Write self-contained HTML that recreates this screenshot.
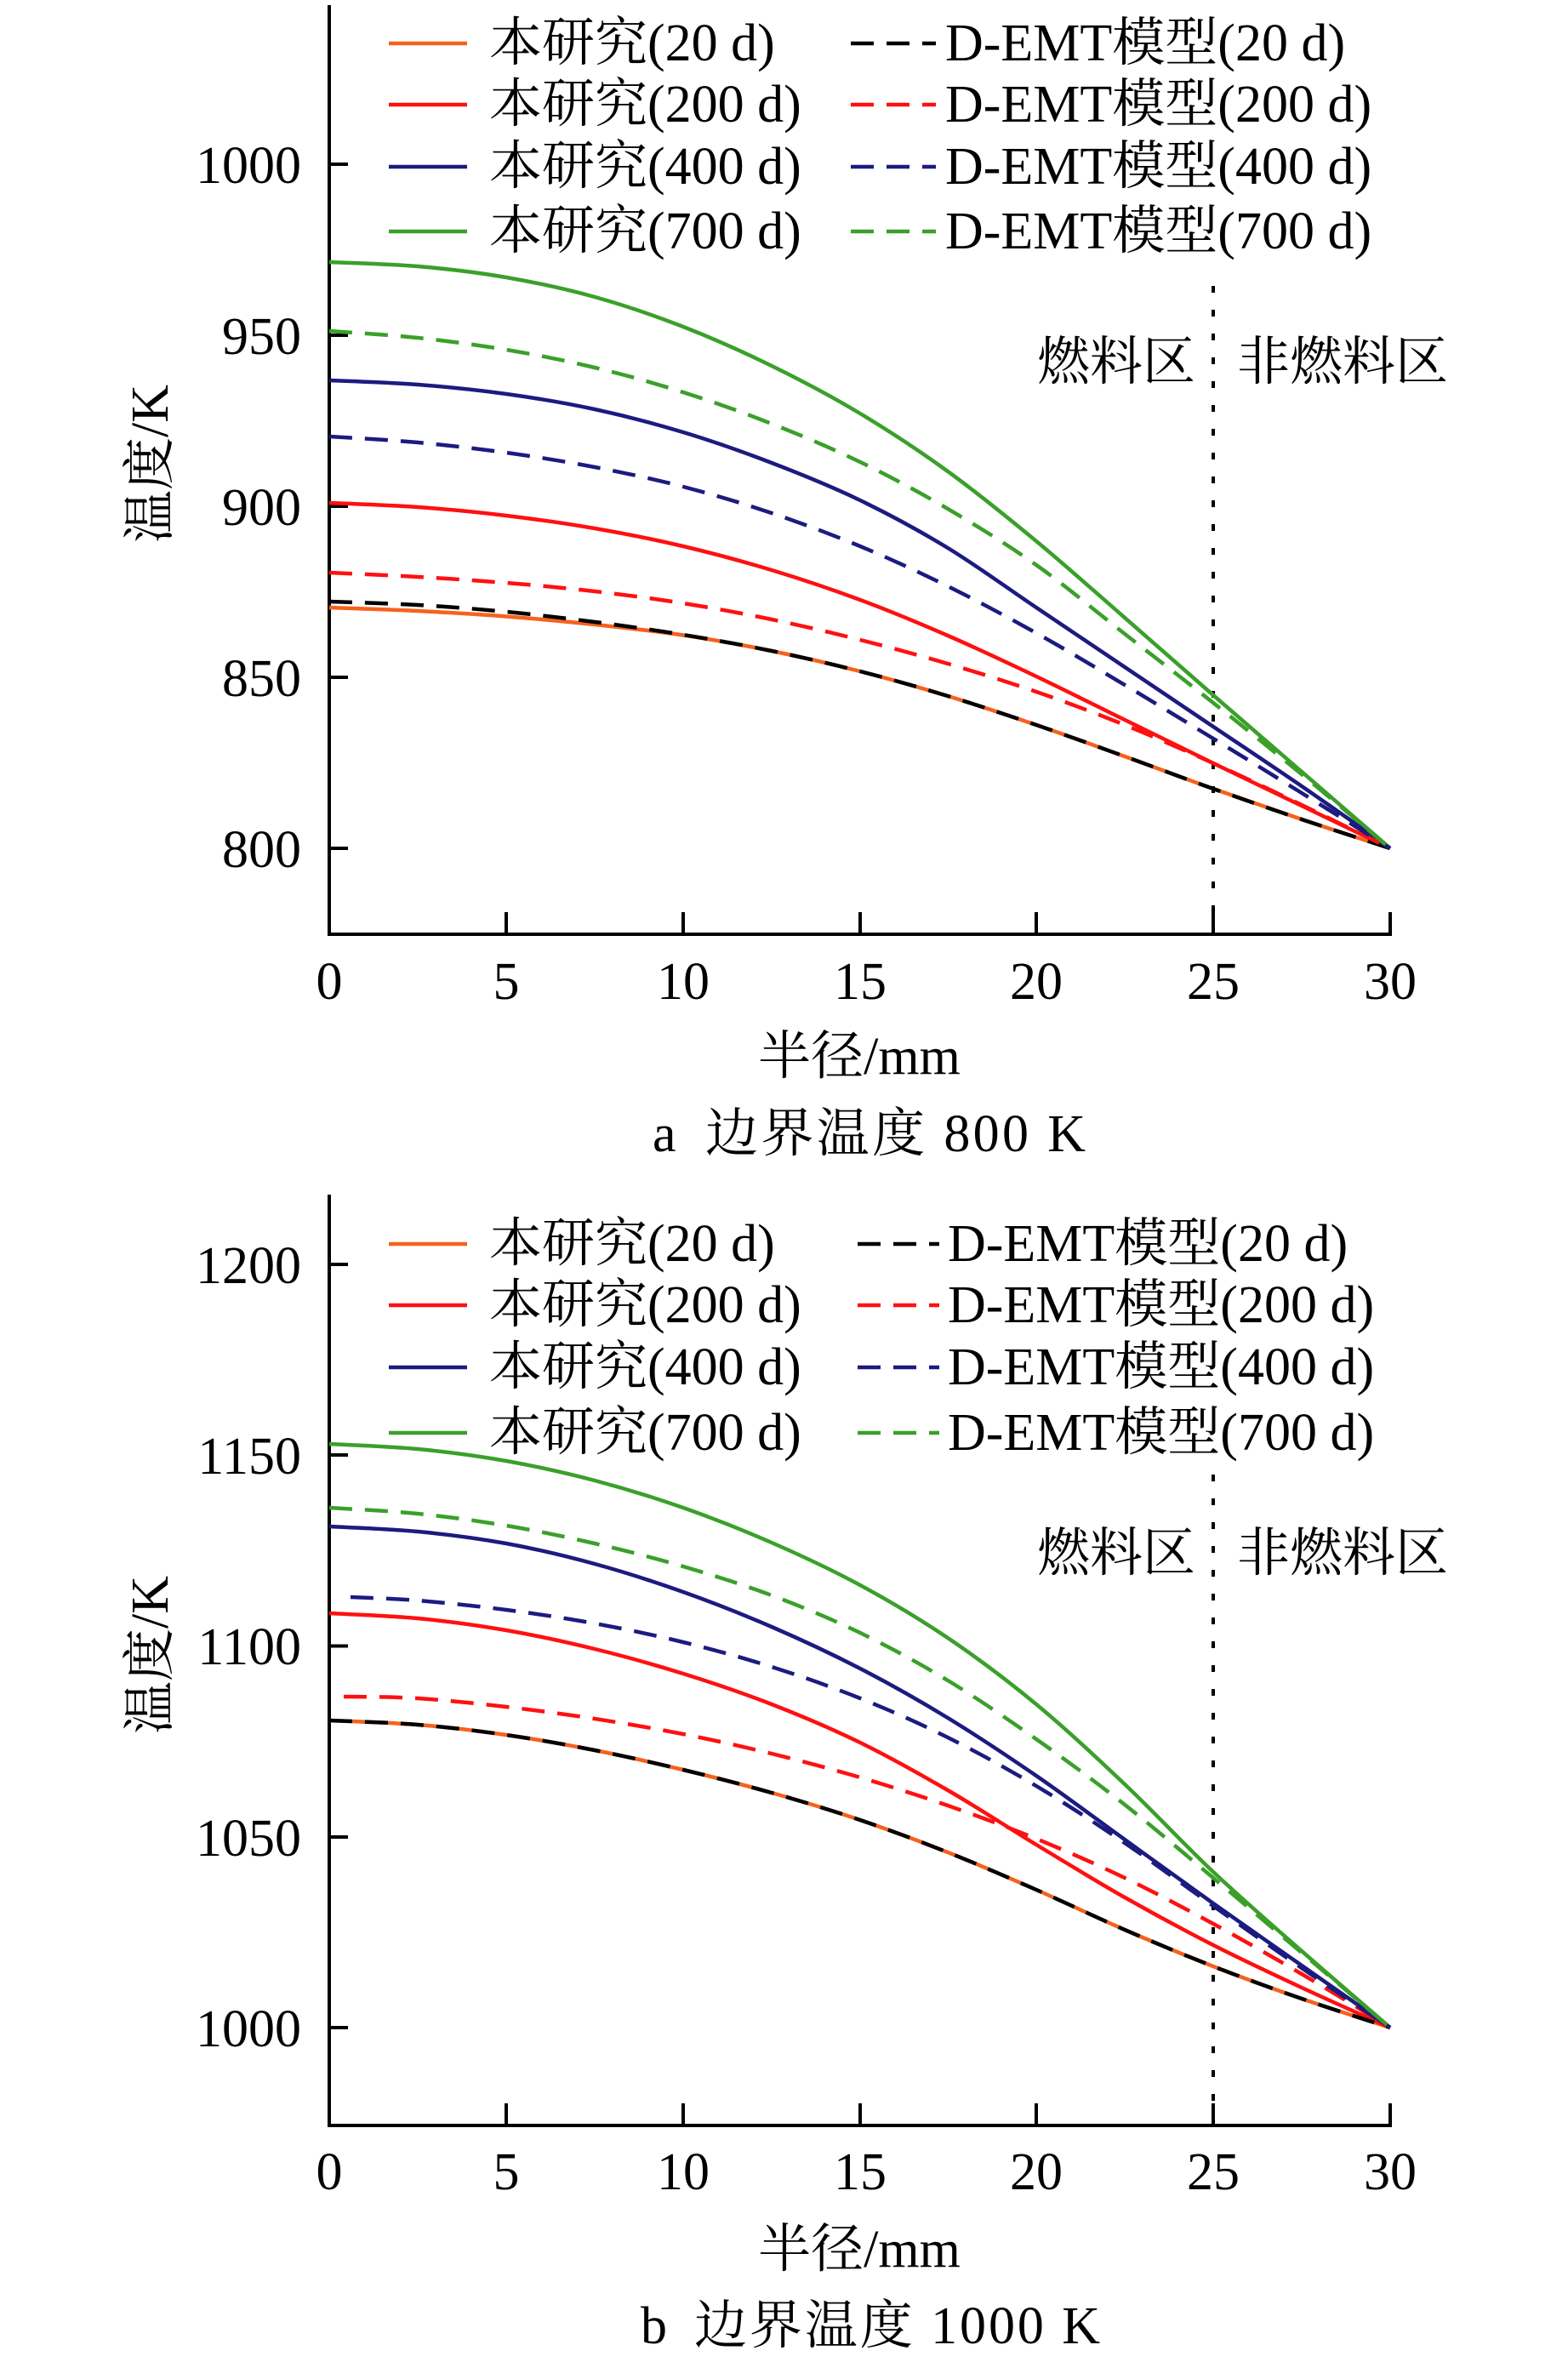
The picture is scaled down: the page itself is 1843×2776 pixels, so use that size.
<!DOCTYPE html>
<html>
<head>
<meta charset="utf-8">
<style>
html,body{margin:0;padding:0;background:#fff;}
svg{display:block;}
text{font-family:"Liberation Serif","Noto Serif CJK SC",serif;font-size:62px;fill:#000;}
.ax{stroke:#000;stroke-width:4;fill:none;stroke-linecap:square;}
.tk{stroke:#000;stroke-width:4;fill:none;}
.c{fill:none;stroke-width:4.5;stroke-linejoin:round;stroke-linecap:butt;}
.d{stroke-dasharray:27 15;}
.dot{stroke:#000;stroke-width:4;stroke-dasharray:8 20;fill:none;}
</style>
</head>
<body>
<svg id="fig" width="1843" height="2776" viewBox="0 0 1843 2776" xmlns="http://www.w3.org/2000/svg">
<rect x="0" y="0" width="1843" height="2776" fill="#fff"/>

<!-- ================= Chart a ================= -->
<line class="ax" x1="387" y1="8" x2="387" y2="1098"/>
<line class="ax" x1="387" y1="1098" x2="1634" y2="1098"/>
<line class="tk" x1="387" y1="193" x2="409" y2="193"/>
<line class="tk" x1="387" y1="394" x2="409" y2="394"/>
<line class="tk" x1="387" y1="595" x2="409" y2="595"/>
<line class="tk" x1="387" y1="796" x2="409" y2="796"/>
<line class="tk" x1="387" y1="997" x2="409" y2="997"/>
<line class="tk" x1="595" y1="1072" x2="595" y2="1098"/>
<line class="tk" x1="803" y1="1072" x2="803" y2="1098"/>
<line class="tk" x1="1011" y1="1072" x2="1011" y2="1098"/>
<line class="tk" x1="1218" y1="1072" x2="1218" y2="1098"/>
<line class="tk" x1="1426" y1="1072" x2="1426" y2="1098"/>
<line class="tk" x1="1634" y1="1072" x2="1634" y2="1098"/>
<text x="354" y="215" text-anchor="end">1000</text>
<text x="354" y="416" text-anchor="end">950</text>
<text x="354" y="617" text-anchor="end">900</text>
<text x="354" y="818" text-anchor="end">850</text>
<text x="354" y="1019" text-anchor="end">800</text>
<text x="387" y="1174" text-anchor="middle">0</text>
<text x="595" y="1174" text-anchor="middle">5</text>
<text x="803" y="1174" text-anchor="middle">10</text>
<text x="1011" y="1174" text-anchor="middle">15</text>
<text x="1218" y="1174" text-anchor="middle">20</text>
<text x="1426" y="1174" text-anchor="middle">25</text>
<text x="1634" y="1174" text-anchor="middle">30</text>
<text transform="translate(197,545) rotate(-90)" text-anchor="middle">温度/K</text>
<text x="1010" y="1262" text-anchor="middle">半径/mm</text>
<text x="767" y="1353">a</text>
<text x="829" y="1353" textLength="447">边界温度 800 K</text>

<line class="dot" x1="1426" y1="336" x2="1426" y2="1098"/>
<text x="1219" y="446">燃料区</text>
<text x="1454" y="446">非燃料区</text>

<polyline class="c" stroke="#F5621E" points="387,714 491,718 595,724.5 699,734 803,746.5 907,765 1011,789 1114,818 1218,852 1322,889 1426,927 1530,963 1634,997"/>
<polyline class="c" stroke="#FF1010" points="387,591 491,596 595,606 699,621 803,642 907,670 1011,705 1114,747 1218,795 1322,846 1426,897 1530,947 1634,997"/>
<polyline class="c" stroke="#1B1B80" points="387,447 491,452 595,463 699,481 803,508 907,544 1011,588 1114,644 1218,714 1322,784 1426,854 1530,924 1634,997"/>
<polyline class="c" stroke="#3AA02A" points="387,308 491,313 595,326 699,349 803,384 907,430 1011,486 1114,554 1218,636 1322,726 1426,817 1530,907 1634,997"/>
<polyline class="c d" stroke="#000" points="387,707 491,711 595,719 699,731 803,746 907,765 1011,789 1114,818 1218,852 1322,889 1426,927 1530,963 1634,997"/>
<polyline class="c d" stroke="#FF1010" points="387,673 491,678 595,685 699,695 803,709 907,728 1011,752 1114,780 1218,813 1322,852 1426,897 1530,946 1634,997"/>
<polyline class="c d" stroke="#1B1B80" points="387,513 491,520 595,532 699,549 803,572 907,603 1011,642 1114,689 1218,744 1322,805 1426,868 1530,932 1634,997"/>
<polyline class="c d" stroke="#3AA02A" points="387,389 491,397 595,411 699,432 803,461 907,498 1011,543 1114,598 1218,664 1322,745 1426,826 1530,910 1634,997"/>

<line class="c" stroke="#F5621E" x1="457" y1="51" x2="549" y2="51"/>
<line class="c" stroke="#FF1010" x1="457" y1="123" x2="549" y2="123"/>
<line class="c" stroke="#1B1B80" x1="457" y1="196" x2="549" y2="196"/>
<line class="c" stroke="#3AA02A" x1="457" y1="272" x2="549" y2="272"/>
<text x="575" y="71">本研究(20 d)</text>
<text x="575" y="143">本研究(200 d)</text>
<text x="575" y="216">本研究(400 d)</text>
<text x="575" y="292">本研究(700 d)</text>
<line class="c d" stroke="#000" x1="1000" y1="51" x2="1100" y2="51"/>
<line class="c d" stroke="#FF1010" x1="1000" y1="123" x2="1100" y2="123"/>
<line class="c d" stroke="#1B1B80" x1="1000" y1="196" x2="1100" y2="196"/>
<line class="c d" stroke="#3AA02A" x1="1000" y1="272" x2="1100" y2="272"/>
<text x="1111" y="71">D-EMT模型(20 d)</text>
<text x="1111" y="143">D-EMT模型(200 d)</text>
<text x="1111" y="216">D-EMT模型(400 d)</text>
<text x="1111" y="292">D-EMT模型(700 d)</text>

<!-- ================= Chart b ================= -->
<line class="ax" x1="387" y1="1406" x2="387" y2="2498"/>
<line class="ax" x1="387" y1="2498" x2="1634" y2="2498"/>
<line class="tk" x1="387" y1="1486" x2="409" y2="1486"/>
<line class="tk" x1="387" y1="1710" x2="409" y2="1710"/>
<line class="tk" x1="387" y1="1934.5" x2="409" y2="1934.5"/>
<line class="tk" x1="387" y1="2159" x2="409" y2="2159"/>
<line class="tk" x1="387" y1="2383" x2="409" y2="2383"/>
<line class="tk" x1="595" y1="2472" x2="595" y2="2498"/>
<line class="tk" x1="803" y1="2472" x2="803" y2="2498"/>
<line class="tk" x1="1011" y1="2472" x2="1011" y2="2498"/>
<line class="tk" x1="1218" y1="2472" x2="1218" y2="2498"/>
<line class="tk" x1="1426" y1="2472" x2="1426" y2="2498"/>
<line class="tk" x1="1634" y1="2472" x2="1634" y2="2498"/>
<text x="354" y="1508" text-anchor="end">1200</text>
<text x="354" y="1732" text-anchor="end">1150</text>
<text x="354" y="1956" text-anchor="end">1100</text>
<text x="354" y="2181" text-anchor="end">1050</text>
<text x="354" y="2405" text-anchor="end">1000</text>
<text x="387" y="2573" text-anchor="middle">0</text>
<text x="595" y="2573" text-anchor="middle">5</text>
<text x="803" y="2573" text-anchor="middle">10</text>
<text x="1011" y="2573" text-anchor="middle">15</text>
<text x="1218" y="2573" text-anchor="middle">20</text>
<text x="1426" y="2573" text-anchor="middle">25</text>
<text x="1634" y="2573" text-anchor="middle">30</text>
<text transform="translate(197,1945) rotate(-90)" text-anchor="middle">温度/K</text>
<text x="1010" y="2664" text-anchor="middle">半径/mm</text>
<text x="753" y="2754">b</text>
<text x="816" y="2754" textLength="477">边界温度 1000 K</text>

<line class="dot" x1="1426" y1="1733" x2="1426" y2="2498"/>
<text x="1219" y="1846">燃料区</text>
<text x="1454" y="1846">非燃料区</text>

<polyline class="c" stroke="#F5621E" points="387,2022 491,2027 595,2039 699,2057 803,2080 907,2107 1011,2139 1114,2177 1218,2221 1322,2268 1426,2311 1530,2349 1634,2383"/>
<polyline class="c" stroke="#FF1010" points="387,1896 491,1902 595,1916 699,1938 803,1967 907,2003 1011,2048 1114,2104 1218,2168 1322,2230 1426,2286 1530,2336 1634,2383"/>
<polyline class="c" stroke="#1B1B80" points="387,1794 491,1800 595,1814 699,1838 803,1871 907,1912 1011,1961 1114,2019 1218,2087 1322,2162 1426,2237 1530,2310 1634,2383"/>
<polyline class="c" stroke="#3AA02A" points="387,1697 491,1703 595,1717 699,1740 803,1772 907,1813 1011,1863 1114,1925 1218,2003 1322,2097 1426,2200 1530,2293 1634,2383"/>
<polyline class="c d" stroke="#000" points="387,2022 491,2027 595,2039 699,2057 803,2080 907,2107 1011,2139 1114,2177 1218,2221 1322,2268 1426,2311 1530,2349 1634,2383"/>
<polyline class="c d" stroke="#FF1010" points="404,1994 491,1996 595,2006 699,2020 803,2038 907,2061 1011,2089 1114,2122 1218,2161 1322,2207 1426,2261 1530,2320 1634,2383"/>
<polyline class="c d" stroke="#1B1B80" points="412,1877 491,1881 595,1892 699,1908 803,1930 907,1959 1011,1996 1114,2042 1218,2099 1322,2166 1426,2240 1530,2313 1634,2383"/>
<polyline class="c d" stroke="#3AA02A" points="387,1772 491,1779 595,1793 699,1814 803,1841 907,1875 1011,1919 1114,1975 1218,2044 1322,2121 1426,2207 1530,2295 1634,2383"/>

<line class="c" stroke="#F5621E" x1="457" y1="1462" x2="549" y2="1462"/>
<line class="c" stroke="#FF1010" x1="457" y1="1534" x2="549" y2="1534"/>
<line class="c" stroke="#1B1B80" x1="457" y1="1607" x2="549" y2="1607"/>
<line class="c" stroke="#3AA02A" x1="457" y1="1684" x2="549" y2="1684"/>
<text x="575" y="1482">本研究(20 d)</text>
<text x="575" y="1554">本研究(200 d)</text>
<text x="575" y="1627">本研究(400 d)</text>
<text x="575" y="1704">本研究(700 d)</text>
<line class="c d" stroke="#000" x1="1008" y1="1462" x2="1104" y2="1462"/>
<line class="c d" stroke="#FF1010" x1="1008" y1="1534" x2="1104" y2="1534"/>
<line class="c d" stroke="#1B1B80" x1="1008" y1="1607" x2="1104" y2="1607"/>
<line class="c d" stroke="#3AA02A" x1="1008" y1="1684" x2="1104" y2="1684"/>
<text x="1114" y="1482">D-EMT模型(20 d)</text>
<text x="1114" y="1554">D-EMT模型(200 d)</text>
<text x="1114" y="1627">D-EMT模型(400 d)</text>
<text x="1114" y="1704">D-EMT模型(700 d)</text>
</svg>
<script>
(function(){
  var NS="http://www.w3.org/2000/svg";
  var pls=document.querySelectorAll("#fig polyline");
  for(var k=0;k<pls.length;k++){
    var pl=pls[k];
    var raw=pl.getAttribute("points").trim().split(/\s+/);
    var P=raw.map(function(s){var a=s.split(",");return [parseFloat(a[0]),parseFloat(a[1])];});
    var n=P.length;
    var d="M"+P[0][0]+","+P[0][1];
    for(var i=0;i<n-1;i++){
      var p0=P[i>0?i-1:i],p1=P[i],p2=P[i+1],p3=P[i+2<n?i+2:i+1];
      var c1x=p1[0]+(p2[0]-p0[0])/6,c1y=p1[1]+(p2[1]-p0[1])/6;
      var c2x=p2[0]-(p3[0]-p1[0])/6,c2y=p2[1]-(p3[1]-p1[1])/6;
      d+=" C"+c1x.toFixed(1)+","+c1y.toFixed(1)+" "+c2x.toFixed(1)+","+c2y.toFixed(1)+" "+p2[0]+","+p2[1];
    }
    var path=document.createElementNS(NS,"path");
    path.setAttribute("d",d);
    path.setAttribute("class",pl.getAttribute("class"));
    path.setAttribute("stroke",pl.getAttribute("stroke"));
    pl.parentNode.replaceChild(path,pl);
  }
})();
</script>
</body>
</html>
